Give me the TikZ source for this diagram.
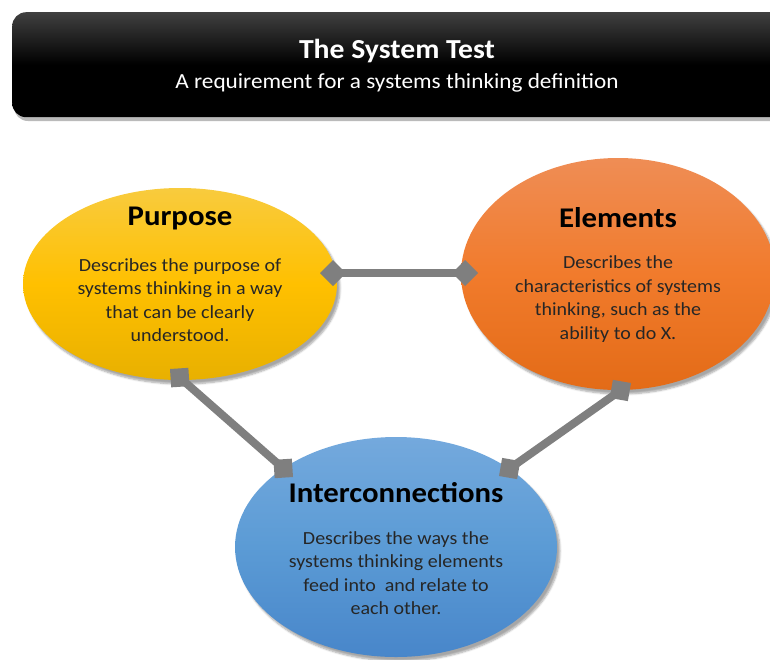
\documentclass[tikz,border=0pt]{standalone}
\usepackage{fontspec}
\setmainfont{Carlito}[FakeStretch=1.08]
\usetikzlibrary{arrows.meta,shapes.geometric,shadows.blur}
\definecolor{purT}{HTML}{F8CB3E}
\definecolor{purM}{HTML}{FFC000}
\definecolor{purB}{HTML}{E8B000}
\definecolor{eleT}{HTML}{EF8D55}
\definecolor{eleM}{HTML}{F17B2C}
\definecolor{eleB}{HTML}{E36B17}
\definecolor{incT}{HTML}{74A9DD}
\definecolor{incM}{HTML}{5B9BD5}
\definecolor{incB}{HTML}{4886CA}
\definecolor{conn}{HTML}{7F7F7F}
\tikzset{
  blob/.style={ellipse, inner sep=0pt, blur shadow={shadow xshift=3pt, shadow yshift=-4pt, shadow blur steps=6, shadow opacity=35}},
  head/.style={font=\fontsize{28.5}{32}\selectfont\bfseries, text=black},
  body/.style={font=\fontsize{18.5}{23.5}\selectfont, align=center, text=black!85},
  link/.style={draw=conn, line width=8pt, {Diamond[length=26pt,width=26pt,line width=0pt]}-{Diamond[length=26pt,width=26pt,line width=0pt]}}
}
\begin{document}
\begin{tikzpicture}[x=1pt,y=-1pt]
\useasboundingbox (0,0) rectangle (770,659);
% header
\fill[black!45, opacity=0.6] (14,17) [rounded corners=14pt] rectangle (800,121);
\node[draw=none, rounded corners=14pt, top color=black!75, bottom color=black, middle color=black, minimum width=790pt, minimum height=105pt, anchor=north west, inner sep=0pt] (hdr) at (12,12) {};
\node[font=\fontsize{27.5}{30}\selectfont\bfseries, text=white] (title) at (397,51) {The System Test};
\node[font=\fontsize{21.5}{24}\selectfont, text=white] (sub) at (397,83) {A requirement for a systems thinking definition};
% ellipses
\node[blob, minimum width=314pt, minimum height=192pt, top color=purT, bottom color=purB, middle color=purM] (pur) at (180,284) {};
\node[blob, minimum width=314pt, minimum height=232pt, top color=eleT, bottom color=eleB, middle color=eleM] (ele) at (618,274) {};
\node[blob, minimum width=322pt, minimum height=220pt, top color=incT, bottom color=incB, middle color=incM] (inc) at (396,547) {};
% texts
\node[head] (purh) at (180,218) {Purpose};
\node[body] (purb) at (180,300) {Describes the purpose of\\systems thinking in a way\\that can be clearly\\understood.};
\node[head] (eleh) at (618,218) {Elements};
\node[body] (eleb) at (618,299) {Describes the\\characteristics of systems\\thinking, such as the\\ability to do X.};
\node[head] (inch) at (396,493) {Interconnections};
\node[body] (incb) at (396,573) {Describes the ways the\\systems thinking elements\\feed into\ \ and relate to\\each other.};
% connector ends
\coordinate (pr) at (320,273);
\coordinate (el) at (478,273);
\coordinate (pb) at (170,369);
\coordinate (il) at (293,477);
\coordinate (eb) at (631,383);
\coordinate (ir) at (499,476);
\draw[link] (pr) -- (el);
\draw[link] (pb) -- (il);
\draw[link] (eb) -- (ir);
\end{tikzpicture}
\end{document}
